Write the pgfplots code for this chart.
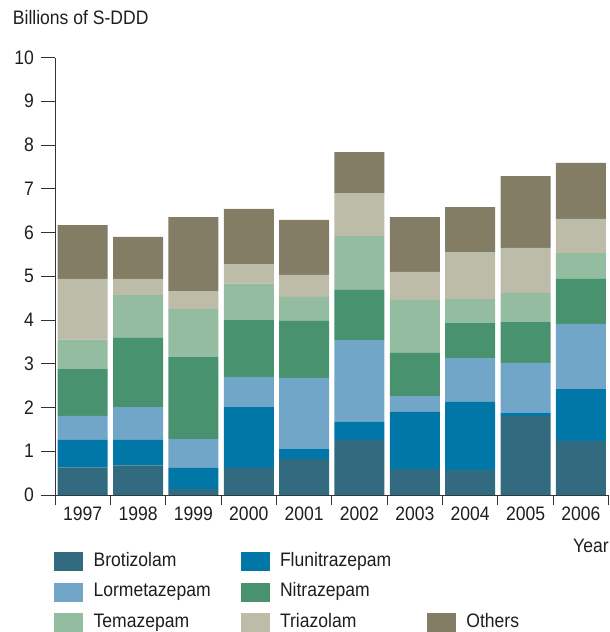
\documentclass[border=0pt]{standalone}
\usepackage{fontspec}
\setmainfont{Liberation Sans}[FakeStretch=0.9]
\usepackage{pgfplots}
\usepackage{pgfplotstable}
\pgfplotsset{compat=1.18}
\definecolor{cBro}{RGB}{50,106,128}
\definecolor{cFlu}{RGB}{0,119,166}
\definecolor{cLor}{RGB}{114,166,200}
\definecolor{cNit}{RGB}{72,146,112}
\definecolor{cTem}{RGB}{147,188,160}
\definecolor{cTri}{RGB}{189,188,168}
\definecolor{cOth}{RGB}{130,125,100}
\definecolor{axgray}{RGB}{51,51,51}
\definecolor{txt}{RGB}{30,30,30}
\pgfplotstableread{
x Bro Flu Lor Nit Tem Tri Oth
0 0.63 0.63 0.55 1.07 0.67 1.39 1.23
1 0.68 0.58 0.75 1.58 0.98 0.37 0.96
2 0.14 0.48 0.66 1.87 1.10 0.41 1.69
3 0.62 1.39 0.69 1.30 0.83 0.45 1.26
4 0.82 0.23 1.63 1.30 0.55 0.50 1.26
5 1.26 0.41 1.87 1.15 1.23 0.98 0.94
6 0.59 1.31 0.36 0.99 1.21 0.64 1.25
7 0.57 1.56 1.00 0.80 0.55 1.07 1.03
8 1.81 0.06 1.15 0.93 0.67 1.03 1.64
9 1.23 1.19 1.49 1.03 0.59 0.78 1.28
}\datatable
\newcommand{\fs}{\fontsize{19.5pt}{22pt}\selectfont}
\begin{document}
\begin{tikzpicture}[font=\fs, text=txt]
\useasboundingbox (0,0) rectangle (610pt,-632pt);
\begin{axis}[
  at={(55pt,-495pt)}, anchor=south west,
  scale only axis, width=553.6pt, height=437.5pt,
  xmin=-0.5, xmax=9.5, ymin=0, ymax=10,
  ybar stacked, bar width=0.903,
  axis x line=bottom, axis y line=left,
  axis line style={-, draw=axgray, line width=0.9pt},
  tick align=outside,
  major tick length=14pt, minor tick length=10pt,
  every tick/.style={draw=axgray, line width=0.9pt},
  xtick={0,...,9},
  xticklabels={1997,1998,1999,2000,2001,2002,2003,2004,2005,2006},
  x tick style={draw=none},
  minor xtick={-0.5,0.5,...,9.5},
  minor x tick style={draw=axgray, line width=0.9pt},
  ytick={0,...,10},
  /pgf/number format/assume math mode=true,
  tick label style={font=\fs, text=txt},
  xticklabel style={anchor=base, inner sep=0pt, yshift=-11.7pt},
  yticklabel style={anchor=east, inner sep=0pt, xshift=-7pt},
  title={Billions of S-DDD},
  title style={at={(axis description cs:-0.0764,1.0613)}, anchor=base west, inner sep=0pt, font=\fs, text=txt},
  xlabel={Year},
  xlabel style={at={(axis description cs:0.9357,-0.1303)}, anchor=base west, inner sep=0pt, font=\fs, text=txt},
  legend columns=3,
  legend style={at={(axis description cs:-0.0018,-0.1303)}, anchor=north west, draw=none, fill=none, inner sep=0pt, row sep=12pt, column sep=0pt,
    nodes={inner sep=0pt, text width=147pt, text height=14pt, text depth=4pt, align=left, font=\fs, text=txt}},
  legend cell align=left,
]
\addplot[fill=cBro, draw=none, forget plot] table[x=x, y=Bro] {\datatable};
\addplot[fill=cFlu, draw=none, forget plot] table[x=x, y=Flu] {\datatable};
\addplot[fill=cLor, draw=none, forget plot] table[x=x, y=Lor] {\datatable};
\addplot[fill=cNit, draw=none, forget plot] table[x=x, y=Nit] {\datatable};
\addplot[fill=cTem, draw=none, forget plot] table[x=x, y=Tem] {\datatable};
\addplot[fill=cTri, draw=none, forget plot] table[x=x, y=Tri] {\datatable};
\addplot[fill=cOth, draw=none, forget plot] table[x=x, y=Oth] {\datatable};
\addlegendimage{legend image code/.code={\fill[cBro] (0pt,-9pt) rectangle (28pt,9pt); \path (39pt,0pt);}}
\addlegendentry{Brotizolam}
\addlegendimage{legend image code/.code={\fill[cFlu] (0pt,-9pt) rectangle (28pt,9pt); \path (39pt,0pt);}}
\addlegendentry{Flunitrazepam}
\addlegendimage{empty legend}
\addlegendentry{}
\addlegendimage{legend image code/.code={\fill[cLor] (0pt,-9pt) rectangle (28pt,9pt); \path (39pt,0pt);}}
\addlegendentry{Lormetazepam}
\addlegendimage{legend image code/.code={\fill[cNit] (0pt,-9pt) rectangle (28pt,9pt); \path (39pt,0pt);}}
\addlegendentry{Nitrazepam}
\addlegendimage{empty legend}
\addlegendentry{}
\addlegendimage{legend image code/.code={\fill[cTem] (0pt,-9pt) rectangle (28pt,9pt); \path (39pt,0pt);}}
\addlegendentry{Temazepam}
\addlegendimage{legend image code/.code={\fill[cTri] (0pt,-9pt) rectangle (28pt,9pt); \path (39pt,0pt);}}
\addlegendentry{Triazolam}
\addlegendimage{legend image code/.code={\fill[cOth] (0pt,-9pt) rectangle (28pt,9pt); \path (39pt,0pt);}}
\addlegendentry{Others}
\end{axis}
\end{tikzpicture}
\end{document}
